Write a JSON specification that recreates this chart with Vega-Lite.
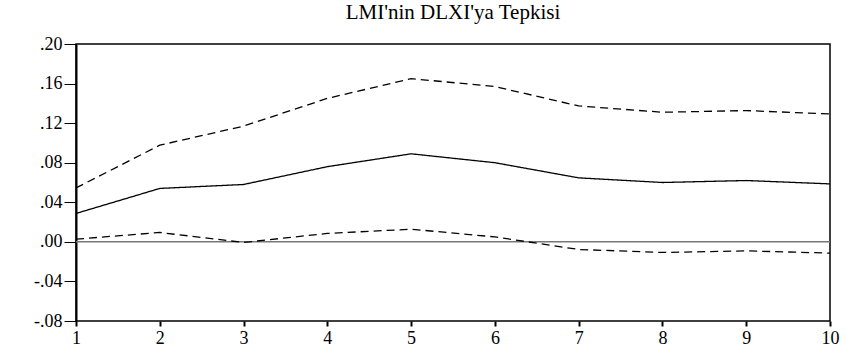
{
  "$schema": "https://vega.github.io/schema/vega-lite/v6.json",
  "width": 754,
  "height": 277,
  "autosize": {"type": "none"},
  "padding": {"left": 76, "top": 44, "right": 17, "bottom": 28},
  "background": "white",
  "config": {
    "font": "Liberation Serif",
    "view": {"stroke": "black", "strokeWidth": 1.5}
  },
  "title": {
    "text": "LMI'nin DLXI'ya Tepkisi",
    "font": "Liberation Serif",
    "fontSize": 21,
    "fontWeight": "normal",
    "color": "black",
    "anchor": "middle",
    "baseline": "alphabetic",
    "offset": -5
  },
  "data": {
    "values": [
      {"t": 1, "k": "tepki", "b": "orta", "v": 0.0287},
      {"t": 2, "k": "tepki", "b": "orta", "v": 0.054},
      {"t": 3, "k": "tepki", "b": "orta", "v": 0.058},
      {"t": 4, "k": "tepki", "b": "orta", "v": 0.076},
      {"t": 5, "k": "tepki", "b": "orta", "v": 0.089},
      {"t": 6, "k": "tepki", "b": "orta", "v": 0.080},
      {"t": 7, "k": "tepki", "b": "orta", "v": 0.0647},
      {"t": 8, "k": "tepki", "b": "orta", "v": 0.060},
      {"t": 9, "k": "tepki", "b": "orta", "v": 0.062},
      {"t": 10, "k": "tepki", "b": "orta", "v": 0.0586},
      {"t": 1, "k": "ust", "b": "bant", "v": 0.0545},
      {"t": 2, "k": "ust", "b": "bant", "v": 0.0977},
      {"t": 3, "k": "ust", "b": "bant", "v": 0.117},
      {"t": 4, "k": "ust", "b": "bant", "v": 0.145},
      {"t": 5, "k": "ust", "b": "bant", "v": 0.165},
      {"t": 6, "k": "ust", "b": "bant", "v": 0.157},
      {"t": 7, "k": "ust", "b": "bant", "v": 0.1374},
      {"t": 8, "k": "ust", "b": "bant", "v": 0.131},
      {"t": 9, "k": "ust", "b": "bant", "v": 0.1327},
      {"t": 10, "k": "ust", "b": "bant", "v": 0.1293},
      {"t": 1, "k": "alt", "b": "bant", "v": 0.0027},
      {"t": 2, "k": "alt", "b": "bant", "v": 0.0095},
      {"t": 3, "k": "alt", "b": "bant", "v": -0.0006},
      {"t": 4, "k": "alt", "b": "bant", "v": 0.0085},
      {"t": 5, "k": "alt", "b": "bant", "v": 0.0128},
      {"t": 6, "k": "alt", "b": "bant", "v": 0.005},
      {"t": 7, "k": "alt", "b": "bant", "v": -0.0077},
      {"t": 8, "k": "alt", "b": "bant", "v": -0.0107},
      {"t": 9, "k": "alt", "b": "bant", "v": -0.0091},
      {"t": 10, "k": "alt", "b": "bant", "v": -0.0114}
    ]
  },
  "layer": [
    {
      "data": {"values": [{"z": 0}]},
      "mark": {"type": "rule", "color": "#777777", "strokeWidth": 1.5},
      "encoding": {
        "y": {
          "field": "z", "type": "quantitative",
          "scale": {"domain": [-0.08, 0.2], "nice": false, "zero": false},
          "axis": {
            "title": null,
            "values": [-0.08, -0.04, 0, 0.04, 0.08, 0.12, 0.16, 0.2],
            "labelExpr": "replace(replace(format(datum.value, '.2f'), '0.', '.'), '\u2212', '-')",
            "grid": false, "domainColor": "black", "domainWidth": 2,
            "tickColor": "black", "tickWidth": 1, "tickSize": 12,
            "labelPadding": 2, "labelFont": "Liberation Serif", "labelFontSize": 18,
            "labelColor": "black", "labelFlush": false, "labelOverlap": false
          }
        }
      }
    },
    {
      "mark": {"type": "line", "color": "black", "strokeWidth": 1.3},
      "encoding": {
        "x": {
          "field": "t", "type": "quantitative",
          "scale": {"domain": [1, 10], "nice": false, "zero": false},
          "axis": {
            "title": null, "values": [1, 2, 3, 4, 5, 6, 7, 8, 9, 10], "format": "d",
            "grid": false, "domain": false, "tickColor": "black", "tickWidth": 2, "tickSize": 5,
            "labelPadding": 3, "labelFont": "Liberation Serif", "labelFontSize": 18,
            "labelColor": "black", "labelFlush": false, "labelOverlap": false
          }
        },
        "y": {
          "field": "v", "type": "quantitative",
          "scale": {"domain": [-0.08, 0.2], "nice": false, "zero": false},
          "axis": {
            "title": null,
            "values": [-0.08, -0.04, 0, 0.04, 0.08, 0.12, 0.16, 0.2],
            "labelExpr": "replace(replace(format(datum.value, '.2f'), '0.', '.'), '\u2212', '-')",
            "grid": false, "domainColor": "black", "domainWidth": 2,
            "tickColor": "black", "tickWidth": 1, "tickSize": 12,
            "labelPadding": 2, "labelFont": "Liberation Serif", "labelFontSize": 18,
            "labelColor": "black", "labelFlush": false, "labelOverlap": false
          }
        },
        "detail": {"field": "k"},
        "strokeDash": {
          "field": "b", "type": "nominal",
          "scale": {"domain": ["orta", "bant"], "range": [[1, 0], [8, 5]]},
          "legend": null
        }
      }
    }
  ]
}
